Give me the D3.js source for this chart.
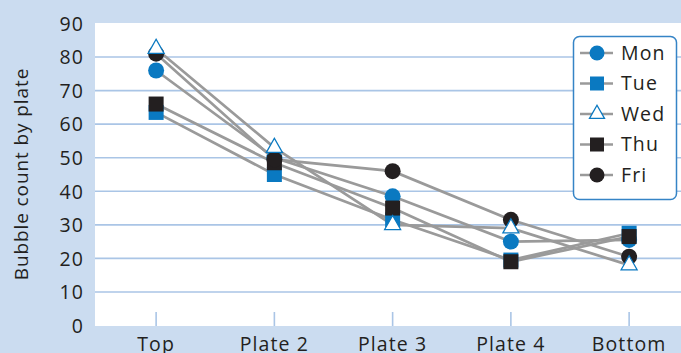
<!DOCTYPE html>
<html>
<head>
<meta charset="utf-8">
<script src="https://cdn.jsdelivr.net/npm/d3@7"></script>
<style>
  html, body { margin: 0; padding: 0; background: #cbdcf0; }
  svg { display: block; }
  text { font-family: "Open Sans", "Noto Sans", sans-serif; fill: #231f20; }
</style>
</head>
<body>
<svg id="chart" width="681" height="353"></svg>
<script>
// Plate positions along the line, top to bottom
const categories = ["Top", "Plate 2", "Plate 3", "Plate 4", "Bottom"];

// Bubble counts per plate for each weekday
const mon = [76, 50, 38.5, 25, 25.5];
const tue = [63.5, 45, 31.5, 19.5, 27.5];
const wed = [82.5, 53, 30, 29, 18];
const thu = [66, 48.5, 35, 19, 26.5];
const fri = [81, 49.5, 46, 31.5, 20.5];

const yTicks = [0, 10, 20, 30, 40, 50, 60, 70, 80, 90];
const yTitle = "Bubble count by plate";

const seriesNames = ["Mon", "Tue", "Wed", "Thu", "Fri"];
const seriesValues = [mon, tue, wed, thu, fri];

const BLUE = "#0a79c1";
const BLACK = "#231f20";
const GRID = "#aac5e6";
const LINE = "#9a9a9a";

const styles = {
  Mon: { shape: "circle", fill: BLUE, stroke: "none" },
  Tue: { shape: "square", fill: BLUE, stroke: "none" },
  Wed: { shape: "triangle", fill: "#ffffff", stroke: BLUE },
  Thu: { shape: "square", fill: BLACK, stroke: "none" },
  Fri: { shape: "circle", fill: BLACK, stroke: "none" }
};

const series = seriesNames.map((name, i) => ({
  name,
  values: categories.map((c, j) => ({ cat: c, v: seriesValues[i][j] }))
}));

const svg = d3.select("#chart");
const plot = { left: 95, top: 23, right: 681, bottom: 326 };
const FS = 19.5;     // label font size
const LS = "1.1px";  // label letter spacing

const x = d3.scaleBand().domain(categories).range([97, 97 + 5 * 118.25]).paddingInner(0).paddingOuter(0);
const xc = c => x(c) + x.bandwidth() / 2;
const y = d3.scaleLinear().domain([0, 90]).range([325.5, 23.5]);

// white plotting area
svg.append("rect")
  .attr("x", plot.left).attr("y", plot.top)
  .attr("width", plot.right - plot.left).attr("height", plot.bottom - plot.top)
  .attr("fill", "#ffffff");

// horizontal gridlines
svg.append("g").selectAll("line")
  .data(yTicks.filter(t => t > 0 && t < 90))
  .join("line")
  .attr("x1", plot.left).attr("x2", plot.right)
  .attr("y1", d => y(d)).attr("y2", d => y(d))
  .attr("stroke", GRID).attr("stroke-width", 1.6);

// y axis labels
const yAxis = d3.axisLeft(y).tickValues(yTicks).tickSize(0).tickPadding(0);
const gy = svg.append("g").attr("transform", "translate(84,0)").call(yAxis);
gy.select(".domain").remove();
gy.selectAll("text")
  .attr("font-size", FS)
  .attr("font-family", "'Open Sans', sans-serif")
  .attr("letter-spacing", LS)
  .attr("fill", BLACK)
  .attr("dy", "0.35em");

// x axis: short inward ticks and plate labels
const xAxis = d3.axisBottom(x).tickSize(0).tickPadding(0);
const gx = svg.append("g").attr("transform", `translate(0,${plot.bottom})`).call(xAxis);
gx.select(".domain").remove();
gx.selectAll(".tick line").remove();
gx.selectAll(".tick").append("line")
  .attr("y1", -14).attr("y2", 0)
  .attr("stroke", GRID).attr("stroke-width", 1.6);
gx.selectAll("text")
  .attr("font-size", FS)
  .attr("font-family", "'Open Sans', sans-serif")
  .attr("letter-spacing", LS)
  .attr("fill", BLACK)
  .attr("y", 24.5)
  .attr("dy", 0);

// y axis title
svg.append("text")
  .attr("transform", "translate(28,174) rotate(-90)")
  .attr("text-anchor", "middle")
  .attr("font-size", 19)
  .attr("letter-spacing", "0.9px")
  .text(yTitle);

// marker drawing
function drawMarker(g, shape, fill, stroke, s) {
  if (shape === "circle") {
    g.append("circle").attr("r", s / 2).attr("fill", fill);
  } else if (shape === "square") {
    g.append("rect").attr("x", -s / 2 + 0.5).attr("y", -s / 2 + 0.5)
      .attr("width", s - 1).attr("height", s - 1).attr("fill", fill);
  } else {
    const h = s * 0.88, hw = s / 2;
    const p = d3.path();
    p.moveTo(0, -h * 2 / 3);
    p.lineTo(hw, h / 3);
    p.lineTo(-hw, h / 3);
    p.closePath();
    g.append("path").attr("d", p.toString())
      .attr("fill", fill).attr("stroke", stroke).attr("stroke-width", 1.3)
      .attr("stroke-linejoin", "miter");
  }
}

// connecting lines
const line = d3.line().x(d => xc(d.cat)).y(d => y(d.v));
svg.append("g").selectAll("path")
  .data(series)
  .join("path")
  .attr("d", d => line(d.values))
  .attr("fill", "none")
  .attr("stroke", LINE)
  .attr("stroke-width", 2.7);

// markers; open triangles sit on top
const drawOrder = ["Mon", "Tue", "Thu", "Fri", "Wed"];
const gm = svg.append("g");
drawOrder.forEach(name => {
  const sr = series.find(s => s.name === name);
  const st = styles[name];
  sr.values.forEach(d => {
    const g = gm.append("g").attr("transform", `translate(${xc(d.cat)},${y(d.v)})`);
    drawMarker(g, st.shape, st.fill, st.stroke, 16);
  });
});

// legend
const lg = svg.append("g");
lg.append("rect")
  .attr("x", 573.5).attr("y", 36.5).attr("width", 103).attr("height", 163)
  .attr("rx", 6).attr("fill", "#ffffff")
  .attr("stroke", "#3584c6").attr("stroke-width", 1.5);
seriesNames.forEach((name, i) => {
  const cy = 53 + i * 30.5;
  const st = styles[name];
  lg.append("line").attr("x1", 580).attr("x2", 613).attr("y1", cy).attr("y2", cy)
    .attr("stroke", LINE).attr("stroke-width", 2.7);
  const g = lg.append("g").attr("transform", `translate(597,${cy})`);
  drawMarker(g, st.shape, st.fill, st.stroke, 15);
  lg.append("text").attr("x", 621).attr("y", cy).attr("dy", "0.35em")
    .attr("font-size", FS).attr("letter-spacing", LS).text(name);
});
</script>
</body>
</html>
